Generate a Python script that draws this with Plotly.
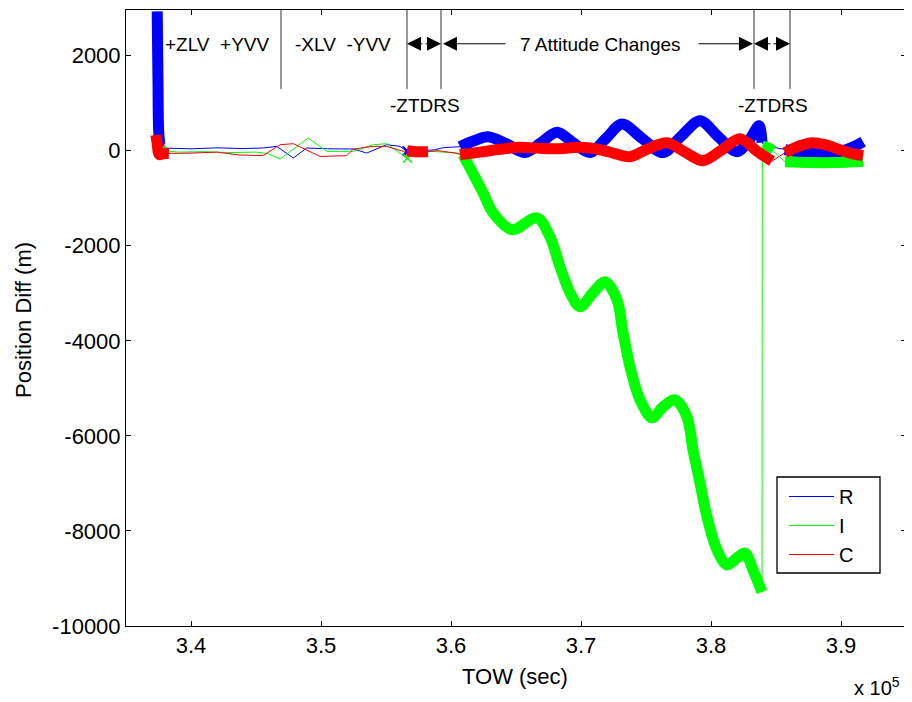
import plotly.graph_objects as go

# ---------------- data (TOW seconds, position difference metres) ----------------
# R (blue)
R_spike_t = [337400, 337460, 337540, 337700, 338000]
R_spike_v = [2930, 1500, 300, 60, 55]
R_quiet_t = [340000, 342000, 344000, 345560, 346590, 347870, 348900, 350500, 352480, 353520,
             355050, 356080, 356600, 357100, 357600, 358230, 358770, 359400, 360460]
R_quiet_v = [40, 60, 45, 57, 91, -154, 57, 40, 35, -49, 126, 91, -14, 10, -10, 0, 20, 63, 91]
R_att_t = [360692, 361769, 362846, 364231, 365692, 366923, 368154, 369385, 370692, 371923,
           373154, 374692, 376308, 377692, 379154, 380538, 382000, 383000, 383692, 383923]
R_att_v = [84, 210, 295, 150, -40, 170, 386, 170, -40, 260, 562, 260, -40, 300, 632, 300, -20, 250, 526, 168]
R_mid_t = [384300, 385000]
R_mid_v = [60, 60]
R_fin_t = [385692, 386850, 388400, 389900, 391080, 391700]
R_fin_v = [21, -30, -40, -20, 100, 190]
R_mark_t = [356620, 356700]
R_mark_v = [0, -20]

# I (green)
I_spike_t = [337400, 337700, 338100]
I_spike_v = [50, 0, -10]
I_quiet_t = [339000, 341000, 343000, 345000, 345900, 346850, 349020, 350440, 352480, 354020,
             355050, 356590, 357100, 357600, 358230, 359000, 360000, 360500]
I_quiet_v = [-30, -20, -40, -30, -60, -175, 267, -14, -14, 126, 147, -154, -20, 0, -10, -20, -40, -60]
I_att_t = [360923, 362462, 363231, 364692, 366615, 367615, 368385, 369154, 369923, 370923,
           371846, 372769, 373231, 373769, 374538, 375462, 376308, 377231, 378154, 378615,
           379154, 379692, 380462, 381231, 382000, 382615, 383231, 383923]
I_att_v = [-84, -884, -1305, -1663, -1411, -1811, -2442, -2989, -3284, -2989,
           -2758, -3137, -3832, -4547, -5242, -5621, -5389, -5242, -5600, -6295,
           -6989, -7705, -8400, -8716, -8568, -8463, -8821, -9284]
I_jump_t = [383950, 384400, 384770]
I_jump_v = [100, 60, 0]
I_fin_t = [385692, 387600, 389500, 391700]
I_fin_v = [-232, -250, -250, -220]
I_mark_t = [356650]
I_mark_v = [-160]

# C (red)
C_spike_t = [337300, 337400, 337550, 338000, 338300]
C_spike_v = [330, 150, -80, -60, -60]
C_quiet_t = [340000, 342000, 343700, 345000, 345560, 346850, 347870, 349920, 351980, 352480,
             354020, 355050, 356330]
C_quiet_v = [-50, -30, -90, -100, -100, 126, 147, -120, -105, 35, 91, 91, -14]
C_ztdrs_t = [356620, 357300, 358230]
C_ztdrs_v = [0, -20, -20]
C_gap_t = [359000, 359900, 360460]
C_gap_v = [0, -35, -50]
C_att_t = [360692, 362231, 363769, 365308, 366846, 368385, 369923, 371462, 372615, 373769,
           375154, 376615, 378000, 379385, 380846, 382231, 383538, 384692]
C_att_v = [-84, -30, 30, 70, 50, 40, 70, 20, -60, -126, 40, 168, -30, -210, 20, 250, -10, -220]
C_fin_t = [385692, 386850, 387770, 388770, 389920, 390850, 391700]
C_fin_v = [-40, 105, 168, 126, 21, -63, -105]

# event markers / annotations
EVENT_T = [346923, 356615, 359231, 383308, 386077]
EVENT_TOP = 2960
EVENT_BOTTOM = 1300
PHASE_LABELS = ["+ZLV  +YVV", "-XLV  -YVV"]
PHASE_T = [342040, 351660]
ZTDRS_T = [358000, 384770]
ATT_LABEL = "7 Attitude Changes"
ATT_T = 371500
ATT_TEXT_EDGES = [364308, 378923]

X_TICKS = [340000, 350000, 360000, 370000, 380000, 390000]
X_TICKTEXT = ["3.4", "3.5", "3.6", "3.7", "3.8", "3.9"]
Y_TICKS = [-10000, -8000, -6000, -4000, -2000, 0, 2000]
Y_TICKTEXT = ["-10000", "-8000", "-6000", "-4000", "-2000", "0", "2000"]

BLUE, GREEN, RED = "#0000ff", "#00ff00", "#ff0000"
FONT = "Liberation Sans, Arial, Helvetica, sans-serif"


def join(*segs):
    out = []
    for s in segs:
        out += list(s)
    return out


def bands(*segs):
    out = []
    for i, s in enumerate(segs):
        if i:
            out.append(None)
        out += list(s)
    return out


fig = go.Figure()

# thin continuous lines
fig.add_trace(go.Scatter(
    x=join(R_spike_t, R_quiet_t, R_att_t, R_mid_t, R_fin_t),
    y=join(R_spike_v, R_quiet_v, R_att_v, R_mid_v, R_fin_v),
    mode="lines", line=dict(color=BLUE, width=1), name="R"))
fig.add_trace(go.Scatter(
    x=join(I_spike_t, I_quiet_t, I_att_t, I_jump_t, I_fin_t),
    y=join(I_spike_v, I_quiet_v, I_att_v, I_jump_v, I_fin_v),
    mode="lines", line=dict(color=GREEN, width=1), name="I"))
fig.add_trace(go.Scatter(
    x=join(C_spike_t, C_quiet_t, C_ztdrs_t, C_gap_t, C_att_t, C_fin_t),
    y=join(C_spike_v, C_quiet_v, C_ztdrs_v, C_gap_v, C_att_v, C_fin_v),
    mode="lines", line=dict(color=RED, width=1), name="C"))

# dense-marker bands
BW = 11
fig.add_trace(go.Scatter(
    x=bands(R_spike_t, R_att_t, R_fin_t), y=bands(R_spike_v, R_att_v, R_fin_v),
    mode="lines", line=dict(color=BLUE, width=BW, shape="spline", smoothing=0.9),
    showlegend=False, hoverinfo="skip"))
fig.add_trace(go.Scatter(
    x=R_mark_t, y=R_mark_v, mode="markers",
    marker=dict(symbol="x-thin", size=9, line=dict(color=BLUE, width=1.5)),
    showlegend=False, hoverinfo="skip"))
fig.add_trace(go.Scatter(
    x=bands(I_spike_t, I_att_t, I_jump_t, I_fin_t), y=bands(I_spike_v, I_att_v, I_jump_v, I_fin_v),
    mode="lines", line=dict(color=GREEN, width=BW, shape="spline", smoothing=0.9),
    showlegend=False, hoverinfo="skip"))
fig.add_trace(go.Scatter(
    x=I_mark_t, y=I_mark_v, mode="markers",
    marker=dict(symbol="x-thin", size=9, line=dict(color=GREEN, width=1.5)),
    showlegend=False, hoverinfo="skip"))
fig.add_trace(go.Scatter(
    x=bands(C_spike_t, C_ztdrs_t, C_att_t, C_fin_t), y=bands(C_spike_v, C_ztdrs_v, C_att_v, C_fin_v),
    mode="lines", line=dict(color=RED, width=BW, shape="spline", smoothing=0.9),
    showlegend=False, hoverinfo="skip"))

# vertical event lines
shapes = []
for t in EVENT_T:
    shapes.append(dict(type="line", xref="x", yref="y", x0=t, x1=t, y0=EVENT_BOTTOM, y1=EVENT_TOP,
                       line=dict(color="#303030", width=1)))

# plot area in page pixels: x 126..906, y 10..626 (page has an 8 px body margin)
PX0, PX1, PY0, PY1 = 126, 906, 10, 626
PW, PH = float(PX1 - PX0), float(PY1 - PY0)


def px(x):
    return (x - PX0) / PW


def py(y):
    return (PY1 - y) / PH


# legend frame
shapes.append(dict(type="rect", xref="paper", yref="paper", layer="above",
                   x0=px(777), x1=px(880), y0=py(573), y1=py(477),
                   line=dict(color="black", width=1.3), fillcolor="rgba(0,0,0,0)"))
shapes.insert(0, dict(type="rect", xref="paper", yref="paper", layer="above",
                      x0=px(777), x1=px(880), y0=py(573), y1=py(477),
                      line=dict(width=0), fillcolor="white"))

ann = []
TY = 2230
for lab, t in zip(PHASE_LABELS, PHASE_T):
    ann.append(dict(x=t, y=TY, xref="x", yref="y", text=lab, showarrow=False,
                    font=dict(size=19, family=FONT, color="black")))
for t in ZTDRS_T:
    ann.append(dict(x=t, y=960, xref="x", yref="y", text="-ZTDRS", showarrow=False,
                    font=dict(size=19, family=FONT, color="black")))
ann.append(dict(x=ATT_T, y=TY, xref="x", yref="y", text=ATT_LABEL, showarrow=False,
                font=dict(size=19, family=FONT, color="black")))

AY = 2250
arrow_pairs = [
    (EVENT_T[1], (EVENT_T[1] + EVENT_T[2]) / 2),
    (EVENT_T[2], (EVENT_T[1] + EVENT_T[2]) / 2),
    (EVENT_T[2] + 150, ATT_TEXT_EDGES[0]),
    (EVENT_T[3] - 80, ATT_TEXT_EDGES[1]),
    (EVENT_T[3], (EVENT_T[3] + EVENT_T[4]) / 2),
    (EVENT_T[4], (EVENT_T[3] + EVENT_T[4]) / 2),
]
for tip, tail in arrow_pairs:
    ann.append(dict(x=tip, y=AY, ax=tail, ay=AY, xref="x", yref="y", axref="x", ayref="y",
                    text="", showarrow=True, arrowhead=2, arrowsize=2.8, arrowwidth=1,
                    arrowcolor="black", standoff=0))

# axis titles and exponent
ann.append(dict(x=px(515), y=py(676), xref="paper", yref="paper",
                xanchor="center", yanchor="middle", text="TOW (sec)", showarrow=False,
                font=dict(size=22, family=FONT, color="black")))
ann.append(dict(x=px(23), y=py(320), xref="paper", yref="paper",
                xanchor="center", yanchor="middle", text="Position Diff (m)", textangle=-90,
                showarrow=False, font=dict(size=22, family=FONT, color="black")))
ann.append(dict(x=px(902), y=py(686), xref="paper", yref="paper",
                xanchor="right", yanchor="middle", text="x 10<sup>5</sup>", showarrow=False,
                font=dict(size=20, family=FONT, color="black")))

axis_common = dict(showgrid=False, zeroline=False, showline=True, linecolor="black", linewidth=1,
                   mirror="ticks", ticks="inside", ticklen=5, tickcolor="black", tickwidth=1,
                   automargin=False, tickfont=dict(size=22, family=FONT, color="black"))

# figure is 8 px smaller than the window because the page adds an 8 px body margin
fig.update_layout(
    width=904, height=694, autosize=False,
    margin=dict(l=PX0 - 8, r=904 + 8 - PX1, t=PY0 - 8, b=694 + 8 - PY1, autoexpand=False),
    paper_bgcolor="white", plot_bgcolor="white",
    font=dict(family=FONT, color="black"),
    xaxis=dict(range=[335000, 395000], tickvals=X_TICKS, ticktext=X_TICKTEXT, **axis_common),
    yaxis=dict(range=[-10000, 2960], tickvals=Y_TICKS, ticktext=Y_TICKTEXT, **axis_common),
    legend=dict(x=px(784), y=py(477), xanchor="left", yanchor="top",
                bgcolor="rgba(0,0,0,0)", borderwidth=0, font=dict(size=20, family=FONT),
                itemwidth=45, tracegroupgap=0),
    shapes=shapes, annotations=ann, showlegend=True,
)

fig.write_html("out.html")
